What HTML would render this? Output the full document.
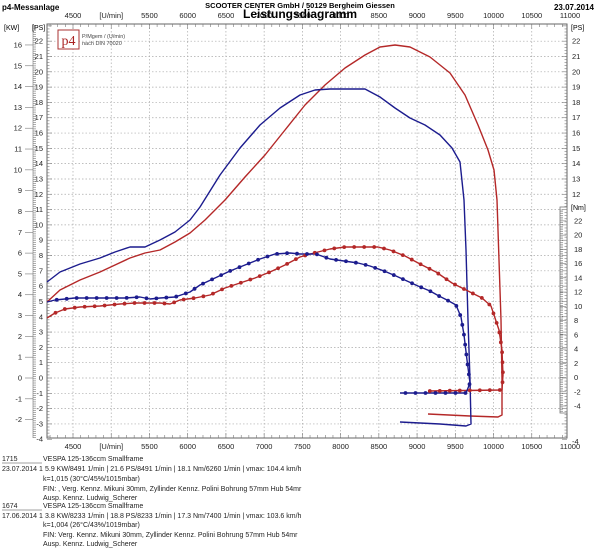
<!DOCTYPE html>
<html><head><meta charset="utf-8"><style>
body{margin:0;background:#fff;width:600px;height:558px;overflow:hidden;font-family:"Liberation Sans",sans-serif}
svg{display:block}
</style></head><body>
<svg id="s" width="600" height="558" xmlns="http://www.w3.org/2000/svg" font-family="Liberation Sans, sans-serif">
<rect width="600" height="558" fill="#fff"/>
<g id="grid"></g>
<rect x="47" y="24" width="520" height="414" fill="none" stroke="#666" stroke-width="1"/>
<rect x="560" y="207" width="7" height="206" fill="#fff" stroke="#777" stroke-width="0.8"/>
<g id="ticks" stroke="#777" stroke-width="0.6"></g>
<g id="labels" font-size="7.5" fill="#222"></g>
<text x="2" y="10" font-size="8" font-weight="bold">p4-Messanlage</text>
<text x="300" y="8" font-size="7.5" font-weight="bold" text-anchor="middle">SCOOTER CENTER GmbH / 50129 Bergheim Giessen</text>
<text x="594" y="10" font-size="8" font-weight="bold" text-anchor="end">23.07.2014</text>
<text x="300" y="18" font-size="12" font-weight="bold" text-anchor="middle">Leistungsdiagramm</text>
<rect x="58" y="30" width="21" height="19" fill="#fff" stroke="#a33" stroke-width="1"/>
<text x="68.5" y="45" font-size="14" font-family="Liberation Serif, serif" fill="#a22" text-anchor="middle">p4</text>
<text x="82" y="38" font-size="5.5" fill="#444">P/Mgem / (U/min)</text>
<text x="82" y="45" font-size="5.5" fill="#444">nach DIN 70020</text>
<text x="4" y="30" font-size="7">[KW]</text>
<text x="32" y="30" font-size="7">[PS]</text>
<text x="571" y="30" font-size="7">[PS]</text>
<text x="571" y="210" font-size="7">[Nm]</text>
<g fill="none" stroke-width="1.4" stroke-linejoin="round">
<polyline id="rp" stroke="#b42828" points="47,302 60,290 80,280 100,272 115,265 130,258 145,253 160,250 175,242 190,233 205,220 225,200 245,177 265,155 285,130 305,105 325,85 345,68 365,55 380,47 395,45 410,47 430,57 450,73 465,95 478,125 488,150 494,170 497,200 499,260 501,320 502,380 502,415 498,417 470,416 428,414"/>
<polyline id="bp" stroke="#1c1c8e" points="47,282 60,272 80,264 100,258 115,252 130,247 145,247 160,240 175,232 190,220 200,207 220,175 240,148 260,125 280,108 300,95 315,90 330,89 365,89 380,97 395,108 410,118 425,125 440,135 452,148 460,162 464,200 466,250 468,320 470,380 471,424 466,426 440,424 400,422"/>
<polyline id="rt" stroke="#b42828" points="47,318 55,313 65,309 80,307 100,306 120,304 135,303 150,303 160,303 170,304 180,300 195,298 210,295 225,288 240,283 255,278 270,272 285,265 300,257 314,253 330,249 345,247 360,247 378,247 390,250 405,256 422,265 436,272 452,283 466,290 482,298 491,306 499,330 502,350 503,375 502,390 428,391"/>
<polyline id="bt" stroke="#1c1c8e" points="47,302 55,300 75,298 100,298 125,298 140,297 150,299 160,298 175,297 190,292 200,285 215,278 230,271 245,265 260,259 275,254 290,253 300,254 316,254 330,259 358,263 370,266 384,271 396,276 407,281 418,286 430,291 439,296 447,300 456,305 461,317 464,335 467,360 470,383 466,393 400,393"/>
</g>
<g id="dots"></g>
<g font-size="7" fill="#222">
<text x="2" y="461">1715</text><line x1="2" y1="463" x2="42" y2="463" stroke="#444" stroke-width="0.5"/>
<text x="43" y="461">VESPA 125-136ccm Smallframe</text>
<text x="2" y="471">23.07.2014  1</text><text x="45" y="471">5.9 KW/8491 1/min  |  21.6 PS/8491 1/min  |  18.1 Nm/6260 1/min | vmax: 104.4 km/h</text>
<text x="43" y="481">k=1,015 (30°C/45%/1015mbar)</text>
<text x="43" y="491">FIN:                               , Verg. Kennz. Mikuni 30mm, Zyllinder Kennz. Polini Bohrung 57mm Hub 54mr</text>
<text x="43" y="500">Ausp. Kennz. Ludwig_Scherer</text>
<text x="2" y="508">1674</text><line x1="2" y1="510" x2="42" y2="510" stroke="#444" stroke-width="0.5"/>
<text x="43" y="508">VESPA 125-136ccm Smallframe</text>
<text x="2" y="518">17.06.2014  1</text><text x="45" y="518">3.8 KW/8233 1/min  |  18.8 PS/8233 1/min  |  17.3 Nm/7400 1/min | vmax: 103.6 km/h</text>
<text x="43" y="527">k=1,004 (26°C/43%/1019mbar)</text>
<text x="43" y="537">FIN:                                    Verg. Kennz. Mikuni 30mm, Zyllinder Kennz. Polini Bohrung 57mm Hub 54mr</text>
<text x="43" y="546">Ausp. Kennz. Ludwig_Scherer</text>
</g>
</svg>
<script>
var NS="http://www.w3.org/2000/svg";
function el(p,t,a,txt){var e=document.createElementNS(NS,t);for(var k in a)e.setAttribute(k,a[k]);if(txt!==undefined)e.textContent=txt;document.getElementById(p).appendChild(e);return e;}
function X(r){return 73+(r-4500)*0.07646;}
function Y(v){return 378-15.31*v;}
for(var r=4500;r<=11000;r+=500){var x=X(r);
 if(r<11000)el("grid","line",{x1:x,y1:24,x2:x,y2:438,stroke:"#aaa","stroke-width":0.7,"stroke-dasharray":"1.5,2"});
 var lab=(r==5000)?"[U/min]":String(r);
 el("labels","text",{x:x,y:18,"text-anchor":"middle"},lab);
 el("labels","text",{x:x,y:449,"text-anchor":"middle"},lab);
}
for(var r=4200;r<=11000;r+=100){var x=X(r);if(x<47||x>567)continue;var L=(r%500==0)?5:3;
 el("ticks","line",{x1:x,y1:438,x2:x,y2:438-L});el("ticks","line",{x1:x,y1:24,x2:x,y2:24+L});}
for(var v=-3;v<=22;v++){var y=Y(v);
 el("grid","line",{x1:47,y1:y,x2:567,y2:y,stroke:"#aaa","stroke-width":0.7,"stroke-dasharray":"1.5,2"});
 el("labels","text",{x:43,y:y+2.5,"text-anchor":"end"},String(v));
 if(v>=12)el("labels","text",{x:572,y:y+2.5},String(v));
}
el("labels","text",{x:43,y:Y(-4)+2.5,"text-anchor":"end"},"-4");
el("labels","text",{x:572,y:Y(-4)+5},"-4");
for(var v=-4;v<=23;v+=0.2){var y=Y(v);if(y<24)continue;var L=(Math.abs(v-Math.round(v))<0.01)?5:2.5;
 el("ticks","line",{x1:47,y1:y,x2:47+L,y2:y});el("ticks","line",{x1:567,y1:y,x2:567-L,y2:y});}
for(var k=-2;k<=16;k++){var y=378-k*1.3596*15.31;
 el("labels","text",{x:22,y:y+2.5,"text-anchor":"end"},String(k));
 el("ticks","line",{x1:25,y1:y,x2:33,y2:y});}
el("ticks","line",{x1:33,y1:24,x2:33,y2:438});
for(var y=26;y<438;y+=2.1)el("ticks","line",{x1:33,y1:y,x2:36,y2:y});
for(var n=-4;n<=22;n+=2){var y=406-(n+4)*7.12;
 el("labels","text",{x:574,y:y+2.5},String(n));
 el("ticks","line",{x1:560,y1:y,x2:566,y2:y});}
for(var y=210;y<412;y+=1.8)el("ticks","line",{x1:560,y1:y,x2:563,y2:y});
function dots(id,col,step){var pts=document.getElementById(id).getAttribute("points").trim().split(/\s+/).map(function(p){return p.split(",").map(Number)});
 var acc=0;for(var i=1;i<pts.length;i++){var a=pts[i-1],b=pts[i];var d=Math.hypot(b[0]-a[0],b[1]-a[1]);var t=step-acc;
  while(t<=d){el("dots","circle",{cx:a[0]+(b[0]-a[0])*t/d,cy:a[1]+(b[1]-a[1])*t/d,r:1.9,fill:col});t+=step;}acc=d-(t-step);}}
dots("rt","#b42828",10);dots("bt","#1c1c8e",10);
</script>
</body></html>
